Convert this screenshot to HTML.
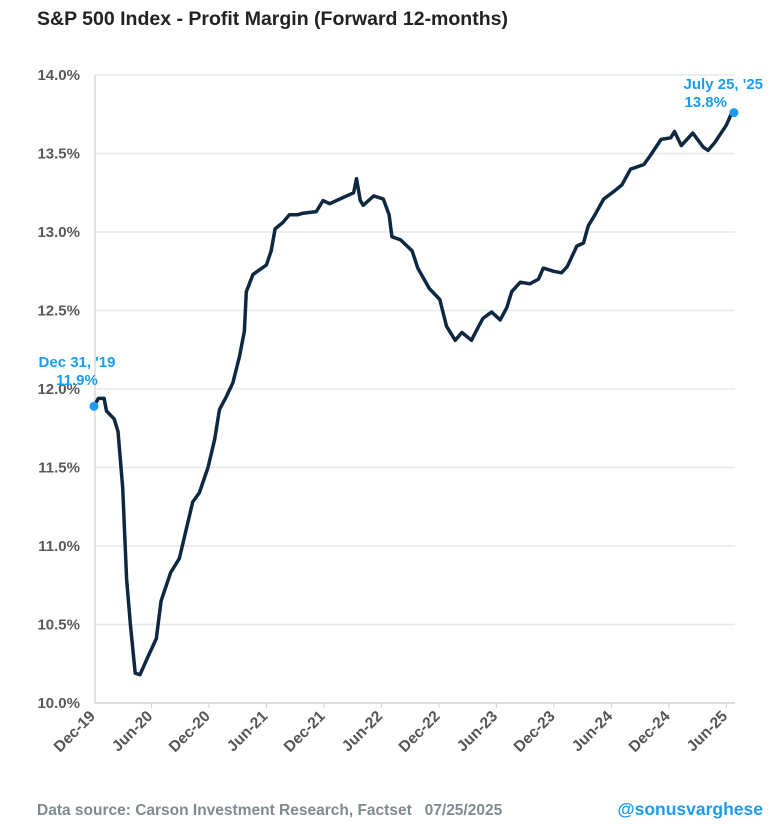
<!DOCTYPE html>
<html><head><meta charset="utf-8"><style>
body{margin:0;background:#fff;font-family:"Liberation Sans",Arial,sans-serif}
</style></head><body>
<svg id="chart" width="780" height="824" xmlns="http://www.w3.org/2000/svg" style="display:block">
<text x="37" y="25" font-size="19.5" font-weight="bold" fill="#222">S&amp;P 500 Index - Profit Margin (Forward 12-months)</text>
<g id="grid"></g><g id="yl"></g><g id="xl"></g>
<path id="line" fill="none" stroke="#0e2842" stroke-width="3.5" stroke-linejoin="round"/>
<circle id="startDot" r="4.5" fill="#1a9cf0"/>
<circle id="endDot" r="4.5" fill="#1a9cf0"/>
<text x="77" y="367" text-anchor="middle" font-size="15" font-weight="bold" fill="#1a9cf0">Dec 31, '19</text>
<text x="77" y="385" text-anchor="middle" font-size="15" font-weight="bold" fill="#1a9cf0">11.9%</text>
<text x="763" y="89" text-anchor="end" font-size="15" font-weight="bold" fill="#1a9cf0">July 25, '25</text>
<text x="727" y="107" text-anchor="end" font-size="15" font-weight="bold" fill="#1a9cf0">13.8%</text>
<text x="37" y="815" font-size="15.5" font-weight="bold" fill="#7f8a90" xml:space="preserve">Data source: Carson Investment Research, Factset   07/25/2025</text>
<text x="763" y="815" text-anchor="end" font-size="17.5" font-weight="bold" fill="#1a9cf0">@sonusvarghese</text>
</svg>
<script>
const months=[0,0.45,1.05,1.3,2.1,2.5,3.0,3.4,3.8,4.3,4.8,5.6,6.5,7.0,8.0,8.9,9.6,10.3,11.0,11.9,12.6,13.1,13.8,14.5,15.2,15.7,15.9,16.6,18.0,18.5,18.9,19.7,20.4,21.3,21.8,23.2,23.9,24.6,26.0,27.1,27.4,27.8,28.1,29.2,30.2,30.8,31.1,32.0,33.2,33.8,35.0,36.1,36.8,37.7,38.4,39.4,39.9,40.6,41.5,42.4,43.1,43.6,44.5,45.5,46.4,46.9,48.0,48.8,49.4,50.4,51.1,51.6,52.2,53.2,54.3,55.1,56.0,57.4,58.1,59.2,60.2,60.6,61.3,62.5,63.6,64.1,64.8,66.0,66.5,66.8];
const margins=[11.89,11.94,11.94,11.86,11.81,11.73,11.37,10.79,10.50,10.19,10.18,10.29,10.41,10.65,10.83,10.92,11.10,11.28,11.34,11.50,11.68,11.87,11.95,12.04,12.21,12.37,12.62,12.73,12.79,12.88,13.02,13.06,13.11,13.11,13.12,13.13,13.20,13.18,13.22,13.25,13.34,13.20,13.17,13.23,13.21,13.11,12.97,12.95,12.88,12.77,12.64,12.57,12.40,12.31,12.36,12.31,12.37,12.45,12.49,12.44,12.52,12.62,12.68,12.67,12.70,12.77,12.75,12.74,12.78,12.91,12.93,13.04,13.10,13.21,13.26,13.30,13.40,13.43,13.49,13.59,13.60,13.64,13.55,13.63,13.54,13.52,13.57,13.68,13.75,13.76];
const yTicks=[10.0,10.5,11.0,11.5,12.0,12.5,13.0,13.5,14.0];
const xTickLabels=["Dec-19","Jun-20","Dec-20","Jun-21","Dec-21","Jun-22","Dec-22","Jun-23","Dec-23","Jun-24","Dec-24","Jun-25"];
const xTickMonths=[0,6,12,18,24,30,36,42,48,54,60,66];
const NS="http://www.w3.org/2000/svg";
const X=m=>94+m*9.58, Y=v=>703-(v-10)*157;
function mk(t,a,p){const e=document.createElementNS(NS,t);for(const k in a)e.setAttribute(k,a[k]);p.appendChild(e);return e;}
const grid=document.getElementById('grid'),yl=document.getElementById('yl'),xl=document.getElementById('xl');
yTicks.forEach(v=>{
 const l=mk('line',{x1:95,x2:735,y1:Y(v),y2:Y(v),stroke:v===10?'#d0d0d0':'#e8e8e8','stroke-width':1.5},grid);
 
 
 const t=mk('text',{x:80,y:Y(v)+5,'text-anchor':'end','font-size':15,'font-weight':'bold',fill:'#595959'},yl);
 t.textContent=v.toFixed(1)+'%';
 
 
});
const ax=mk('line',{x1:95,x2:95,y1:Y(14),y2:Y(10),stroke:'#d8d8d8','stroke-width':1.5},grid);


xTickMonths.forEach((m,i)=>{
 const x=X(m);
 if(i>0){const tk=mk('line',{x1:x,x2:x,y1:703,y2:708,stroke:'#d0d0d0'},grid);
 
 }
 const t=mk('text',{x:x+2,y:717,'text-anchor':'end','font-size':15.5,'font-weight':'bold',fill:'#555',transform:`rotate(-45 ${x+2} 717)`},xl);
 t.textContent=xTickLabels[i];
 
 
});
document.getElementById('line').setAttribute('d',months.map((m,i)=>(i?'L':'M')+X(m).toFixed(1)+' '+Y(margins[i]).toFixed(1)).join(''));
const s=document.getElementById('startDot');s.setAttribute('cx',X(months[0]));s.setAttribute('cy',Y(margins[0]));
const n=months.length-1,e=document.getElementById('endDot');e.setAttribute('cx',X(months[n]));e.setAttribute('cy',Y(margins[n]));
</script>
</body></html>
